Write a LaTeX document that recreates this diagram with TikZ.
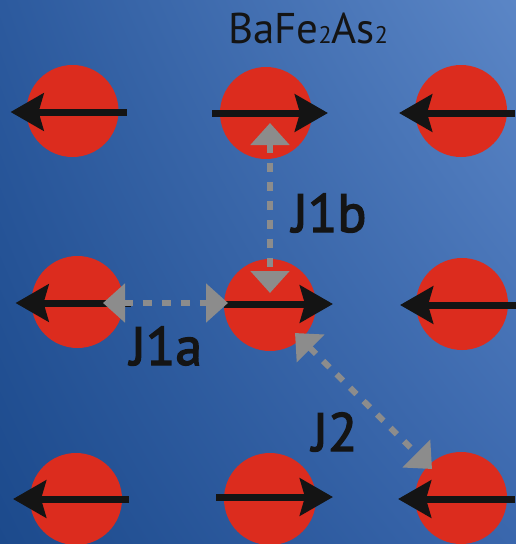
\documentclass[tikz,border=0pt]{standalone}
\usepackage{fontspec}
\setmainfont{PT Sans}
\newfontfamily\jfont[FakeBold=2.5]{PT Sans}
\usetikzlibrary{arrows.meta,calc,shadings}
\definecolor{atomred}{HTML}{DC2C1E}
\definecolor{spinblack}{HTML}{141414}
\definecolor{jgray}{HTML}{8C8C8C}
\definecolor{bgTL}{HTML}{2C5A9E}
\definecolor{bgTR}{HTML}{5B86C6}
\definecolor{bgBL}{HTML}{1C4A8C}
\definecolor{bgBR}{HTML}{3A67AD}
\tikzset{
  atom/.style={circle,fill=atomred,draw=none,minimum size=92pt,inner sep=0pt},
  spin/.style={draw=spinblack,line width=7pt,-{Stealth[length=33pt,width=37pt,inset=5pt]}},
  coupling/.style={draw=jgray,line width=6pt,dash pattern=on 9pt off 10pt,
    {Triangle[length=22pt,width=38pt]}-{Triangle[length=22pt,width=38pt]}},
  jlabel/.style={anchor=base west,inner sep=0pt,text=spinblack,font=\jfont\fontsize{54pt}{60pt}\selectfont},
  title/.style={anchor=base,inner sep=0pt,text=spinblack,font=\fontsize{43pt}{50pt}\selectfont}
}
\begin{document}
\begin{tikzpicture}[x=1pt,y=-1pt]
\shade[upper left=bgTL,upper right=bgTR,lower left=bgBL,lower right=bgBR] (0,0) rectangle (516,544);
\useasboundingbox (0,0) rectangle (516,544);
% atoms
\node[atom] (n11) at (72.5,111) {};
\node[atom] (n12) at (266,113) {};
\node[atom] (n13) at (461,111) {};
\node[atom] (n21) at (77.5,302) {};
\node[atom] (n22) at (270,305) {};
\node[atom] (n23) at (462,304) {};
\node[atom] (n31) at (76,499) {};
\node[atom] (n32) at (270,499) {};
\node[atom] (n33) at (461,498) {};
% spins
\draw[spin] ($(n11.center)+(54,1)$) -- ($(n11.center)+(-62,1)$);
\draw[spin] ($(n12.center)+(-54,0)$) -- ($(n12.center)+(62,0)$);
\draw[spin] ($(n13.center)+(54,2)$) -- ($(n13.center)+(-62,2)$);
\draw[spin] ($(n21.center)+(53,1)$) -- ($(n21.center)+(-62,1)$);
\draw[spin] ($(n22.center)+(-46,-1)$) -- ($(n22.center)+(63,-1)$);
\draw[spin] ($(n23.center)+(54,1)$) -- ($(n23.center)+(-62,1)$);
\draw[spin] ($(n31.center)+(53,0)$) -- ($(n31.center)+(-63,0)$);
\draw[spin] ($(n32.center)+(-54,-2)$) -- ($(n32.center)+(63,-2)$);
\draw[spin] ($(n33.center)+(54,1)$) -- ($(n33.center)+(-63,1)$);
% couplings
\draw[coupling] ($(n12.center)+(4,10)$) -- ($(n22.center)+(0,-12)$);
\draw[coupling] ($(n21.center)+(25.5,1)$) -- ($(n22.center)+(-42,-2)$);
\draw[coupling] ($(n22.center)+(25,28)$) -- ($(n33.center)+(-29,-29)$);
% labels
\node[title] (title) at (308,43) {BaFe{\fontsize{24pt}{28pt}\selectfont 2}As{\fontsize{24pt}{28pt}\selectfont 2}};
\node[jlabel] (j1b) at (292,232) {J1b};
\node[jlabel] (j1a) at (130,365) {J1a};
\node[jlabel] (j2) at (312,451) {J2};
\end{tikzpicture}
\end{document}
